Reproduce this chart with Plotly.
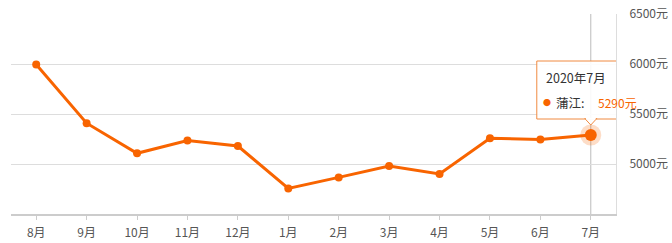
import plotly.graph_objects as go

months = ["8月", "9月", "10月", "11月", "12月", "1月", "2月", "3月", "4月", "5月", "6月", "7月"]
prices = [5995, 5408, 5107, 5234, 5180, 4756, 4866, 4980, 4900, 5258, 5244, 5290]
y_ticks = [5000, 5500, 6000, 6500]
y_tick_labels = ["5000元", "5500元", "6000元", "6500元"]
series_name = "蒲江"
tip_title = "2020年7月"

ORANGE = "#f86400"
FONT = "Noto Sans CJK SC"

fig = go.Figure()
fig.add_trace(go.Scatter(
    x=months, y=prices, mode="lines+markers",
    line=dict(color=ORANGE, width=3),
    marker=dict(color=ORANGE, size=8),
    hoverinfo="skip", showlegend=False, cliponaxis=False,
))
# highlighted last point with halo
hi = len(months) - 1
fig.add_trace(go.Scatter(
    x=[months[hi]], y=[prices[hi]], mode="markers",
    marker=dict(color="rgba(248,100,0,0.22)", size=21, line=dict(width=0)),
    hoverinfo="skip", showlegend=False, cliponaxis=False,
))
fig.add_trace(go.Scatter(
    x=[months[hi]], y=[prices[hi]], mode="markers",
    marker=dict(color=ORANGE, size=12, line=dict(width=0)),
    hoverinfo="skip", showlegend=False, cliponaxis=False,
))

# crosshair line
fig.add_shape(type="line", xref="x", yref="paper", x0=months[hi], x1=months[hi], y0=0, y1=1,
              line=dict(color="#bbbbbb", width=1), layer="below")

# tooltip box (drawn in paper-level upper layer, above tick labels)
fig.add_shape(type="rect", xref="x", yref="y", xsizemode="pixel", ysizemode="pixel",
              xanchor=months[hi], yanchor=prices[hi],
              x0=-54, x1=55, y0=16, y1=74, layer="above",
              fillcolor="rgba(255,255,255,0.9)", line=dict(color="#f08a40", width=1))
fig.add_shape(type="path", xref="x", yref="y", xsizemode="pixel", ysizemode="pixel",
              xanchor=months[hi], yanchor=prices[hi],
              path="M -6,16.5 L 0,10 L 6,16.5 Z", layer="above",
              fillcolor="rgba(255,255,255,0.95)", line=dict(color="#f08a40", width=1))
fig.add_shape(type="line", xref="x", yref="y", xsizemode="pixel", ysizemode="pixel",
              xanchor=months[hi], yanchor=prices[hi],
              x0=-5, x1=5, y0=16.5, y1=16.5, layer="above",
              line=dict(color="white", width=1.5))

fig.add_annotation(x=months[hi], y=prices[hi], xref="x", yref="y", showarrow=False,
                   text=tip_title, xanchor="left", yanchor="middle", xshift=-47, yshift=58,
                   font=dict(family=FONT, size=12.5, color="#333333"))
fig.add_annotation(x=months[hi], y=prices[hi], xref="x", yref="y", showarrow=False,
                   text="●", xanchor="center", yanchor="middle", xshift=-44, yshift=33,
                   font=dict(family=FONT, size=8, color=ORANGE))
fig.add_annotation(x=months[hi], y=prices[hi], xref="x", yref="y", showarrow=False,
                   text=series_name + ":", xanchor="left", yanchor="middle", xshift=-37, yshift=33,
                   font=dict(family=FONT, size=12.5, color="#333333"))
fig.add_annotation(x=months[hi], y=prices[hi], xref="x", yref="y", showarrow=False,
                   text=f"{prices[hi]}元", xanchor="left", yanchor="middle", xshift=5, yshift=33,
                   font=dict(family=FONT, size=12, color=ORANGE))

fig.update_layout(
    width=672, height=243,
    margin=dict(l=11, r=56, t=14, b=29),
    paper_bgcolor="white", plot_bgcolor="white",
    font=dict(family=FONT, size=12, color="#555555"),
    xaxis=dict(
        type="category", range=[-0.5, len(months) - 0.5],
        showgrid=False, showline=True, linecolor="#cccccc", linewidth=2,
        ticks="outside", ticklen=4, tickcolor="#cccccc", tickwidth=1,
        tickfont=dict(size=12, color="#555555"), ticklabelstandoff=3,
        zeroline=False, fixedrange=True, automargin=False,
    ),
    yaxis=dict(
        side="right", range=[4500, 6500],
        tickvals=y_ticks, ticktext=y_tick_labels,
        showgrid=True, gridcolor="#dddddd", gridwidth=1,
        showline=True, linecolor="#dddddd", linewidth=1,
        ticks="", tickfont=dict(size=12, color="#555555"), ticklabelstandoff=10,
        zeroline=False, fixedrange=True, automargin=False,
    ),
)

fig.write_html("out.html")
